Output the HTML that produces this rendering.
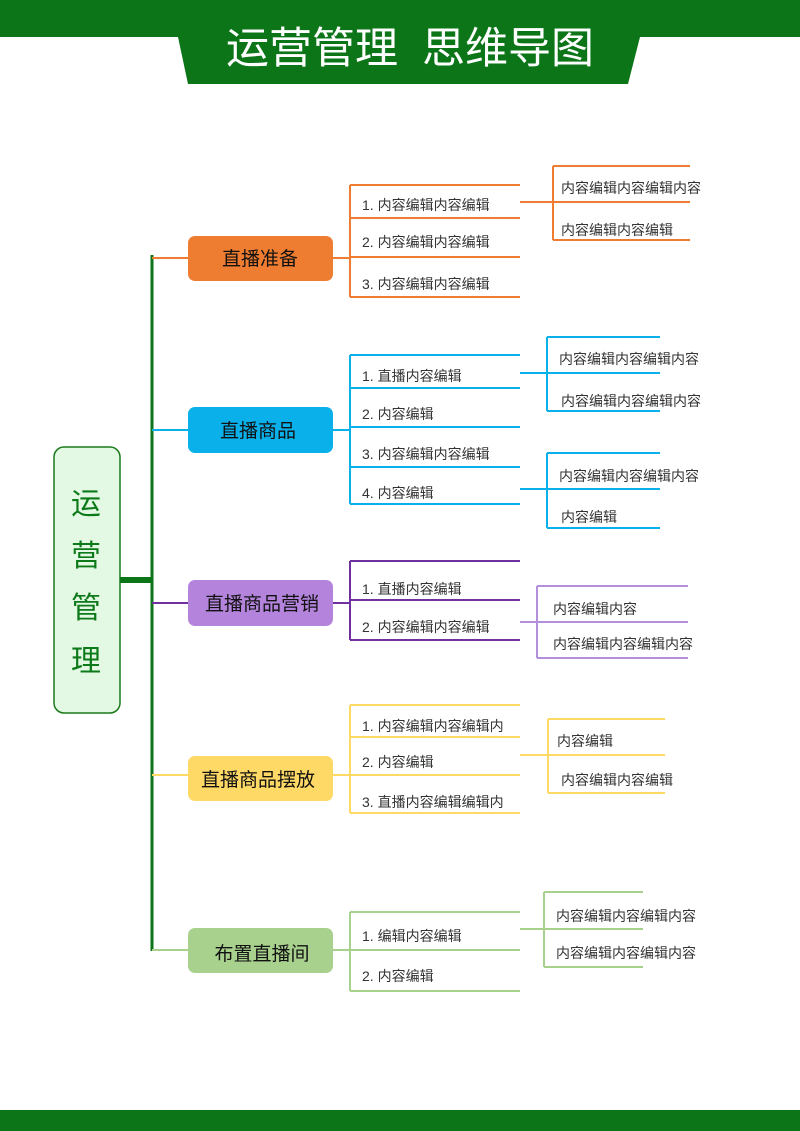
<!DOCTYPE html>
<html><head><meta charset="utf-8"><style>
html,body{margin:0;padding:0;background:#fff}
svg{display:block}
text{font-family:"Liberation Sans","Noto Sans CJK SC",sans-serif}
.t{font-size:14px;fill:#333}
.n{font-size:19px;fill:#111;text-anchor:middle}
</style></head><body>
<svg width="800" height="1131" viewBox="0 0 800 1131" xmlns="http://www.w3.org/2000/svg">
<rect x="0" y="0" width="800" height="37" fill="#0b7518"/>
<polygon points="178,37 640,37 628,84 188,84" fill="#0b7518"/>
<text x="410" y="63" font-size="43" fill="#fff" text-anchor="middle" xml:space="preserve">运营管理  思维导图</text>
<rect x="0" y="1110" width="800" height="21" fill="#0b7518"/>

<rect x="54" y="447" width="66" height="266" rx="10" fill="#e3f9e3" stroke="#1a7a1a" stroke-width="1.5"/>
<g font-size="30" fill="#0d7a1a" text-anchor="middle">
<text x="86" y="514">运</text><text x="86" y="566">营</text><text x="86" y="618">管</text><text x="86" y="671">理</text>
</g>
<rect x="120" y="577" width="32" height="6" fill="#0b7518"/>
<line x1="152" y1="255" x2="152" y2="951" stroke="#0b7518" stroke-width="3"/>

<g stroke="#ee7d31" stroke-width="2" fill="none">
<line x1="152" y1="258" x2="188" y2="258"/>
<line x1="333" y1="258" x2="350" y2="258"/>
<line x1="350" y1="185" x2="350" y2="297"/>
<line x1="350" y1="185" x2="520" y2="185"/><line x1="350" y1="218" x2="520" y2="218"/>
<line x1="350" y1="257" x2="520" y2="257"/><line x1="350" y1="297" x2="520" y2="297"/>
<line x1="520" y1="202" x2="553" y2="202"/>
<line x1="553" y1="166" x2="553" y2="240"/>
<line x1="553" y1="166" x2="690" y2="166"/><line x1="553" y1="202" x2="690" y2="202"/><line x1="553" y1="240" x2="690" y2="240"/>
</g>
<rect x="188" y="236" width="145" height="45" rx="7" fill="#ee7d31"/>
<text class="n" x="260" y="265">直播准备</text>
<text class="t" x="362" y="210">1. 内容编辑内容编辑</text>
<text class="t" x="362" y="247">2. 内容编辑内容编辑</text>
<text class="t" x="362" y="289">3. 内容编辑内容编辑</text>
<text class="t" x="561" y="193">内容编辑内容编辑内容</text>
<text class="t" x="561" y="235">内容编辑内容编辑</text>

<g stroke="#0ab0ea" stroke-width="2" fill="none">
<line x1="152" y1="430" x2="188" y2="430"/>
<line x1="333" y1="430" x2="350" y2="430"/>
<line x1="350" y1="355" x2="350" y2="504"/>
<line x1="350" y1="355" x2="520" y2="355"/><line x1="350" y1="388" x2="520" y2="388"/>
<line x1="350" y1="427" x2="520" y2="427"/><line x1="350" y1="467" x2="520" y2="467"/><line x1="350" y1="504" x2="520" y2="504"/>
<line x1="520" y1="373" x2="547" y2="373"/>
<line x1="547" y1="337" x2="547" y2="411"/>
<line x1="547" y1="337" x2="660" y2="337"/><line x1="547" y1="373" x2="660" y2="373"/><line x1="547" y1="411" x2="660" y2="411"/>
<line x1="520" y1="489" x2="547" y2="489"/>
<line x1="547" y1="453" x2="547" y2="528"/>
<line x1="547" y1="453" x2="660" y2="453"/><line x1="547" y1="489" x2="660" y2="489"/><line x1="547" y1="528" x2="660" y2="528"/>
</g>
<rect x="188" y="407" width="145" height="46" rx="7" fill="#0ab0ea"/>
<text class="n" x="258" y="437">直播商品</text>
<text class="t" x="362" y="381">1. 直播内容编辑</text>
<text class="t" x="362" y="419">2. 内容编辑</text>
<text class="t" x="362" y="459">3. 内容编辑内容编辑</text>
<text class="t" x="362" y="498">4. 内容编辑</text>
<text class="t" x="559" y="364">内容编辑内容编辑内容</text>
<text class="t" x="561" y="406">内容编辑内容编辑内容</text>
<text class="t" x="559" y="481">内容编辑内容编辑内容</text>
<text class="t" x="561" y="522">内容编辑</text>

<g stroke="#7030a0" stroke-width="2" fill="none">
<line x1="152" y1="603" x2="188" y2="603"/>
<line x1="333" y1="603" x2="350" y2="603"/>
<line x1="350" y1="561" x2="350" y2="640"/>
<line x1="350" y1="561" x2="520" y2="561"/><line x1="350" y1="600" x2="520" y2="600"/><line x1="350" y1="640" x2="520" y2="640"/>
</g>
<g stroke="#b48fdc" stroke-width="2" fill="none">
<line x1="520" y1="622" x2="537" y2="622"/>
<line x1="537" y1="586" x2="537" y2="658"/>
<line x1="537" y1="586" x2="688" y2="586"/><line x1="537" y1="622" x2="688" y2="622"/><line x1="537" y1="658" x2="688" y2="658"/>
</g>
<rect x="188" y="580" width="145" height="46" rx="7" fill="#b484dc"/>
<text class="n" x="262" y="610">直播商品营销</text>
<text class="t" x="362" y="594">1. 直播内容编辑</text>
<text class="t" x="362" y="632">2. 内容编辑内容编辑</text>
<text class="t" x="553" y="614">内容编辑内容</text>
<text class="t" x="553" y="649">内容编辑内容编辑内容</text>

<g stroke="#ffd966" stroke-width="2" fill="none">
<line x1="152" y1="775" x2="188" y2="775"/>
<line x1="333" y1="775" x2="350" y2="775"/>
<line x1="350" y1="705" x2="350" y2="813"/>
<line x1="350" y1="705" x2="520" y2="705"/><line x1="350" y1="737" x2="520" y2="737"/>
<line x1="350" y1="775" x2="520" y2="775"/><line x1="350" y1="813" x2="520" y2="813"/>
<line x1="520" y1="755" x2="548" y2="755"/>
<line x1="548" y1="719" x2="548" y2="793"/>
<line x1="548" y1="719" x2="665" y2="719"/><line x1="548" y1="755" x2="665" y2="755"/><line x1="548" y1="793" x2="665" y2="793"/>
</g>
<rect x="188" y="756" width="145" height="45" rx="7" fill="#ffd966"/>
<text class="n" x="258" y="786">直播商品摆放</text>
<text class="t" x="362" y="731">1. 内容编辑内容编辑内</text>
<text class="t" x="362" y="767">2. 内容编辑</text>
<text class="t" x="362" y="807">3. 直播内容编辑编辑内</text>
<text class="t" x="557" y="746">内容编辑</text>
<text class="t" x="561" y="785">内容编辑内容编辑</text>

<g stroke="#a9d18e" stroke-width="2" fill="none">
<line x1="152" y1="950" x2="188" y2="950"/>
<line x1="333" y1="950" x2="350" y2="950"/>
<line x1="350" y1="912" x2="350" y2="991"/>
<line x1="350" y1="912" x2="520" y2="912"/><line x1="350" y1="950" x2="520" y2="950"/><line x1="350" y1="991" x2="520" y2="991"/>
<line x1="520" y1="929" x2="544" y2="929"/>
<line x1="544" y1="892" x2="544" y2="967"/>
<line x1="544" y1="892" x2="643" y2="892"/><line x1="544" y1="929" x2="643" y2="929"/><line x1="544" y1="967" x2="643" y2="967"/>
</g>
<rect x="188" y="928" width="145" height="45" rx="7" fill="#a9d18e"/>
<text class="n" x="262" y="960">布置直播间</text>
<text class="t" x="362" y="941">1. 编辑内容编辑</text>
<text class="t" x="362" y="981">2. 内容编辑</text>
<text class="t" x="556" y="921">内容编辑内容编辑内容</text>
<text class="t" x="556" y="958">内容编辑内容编辑内容</text>
</svg>
</body></html>
